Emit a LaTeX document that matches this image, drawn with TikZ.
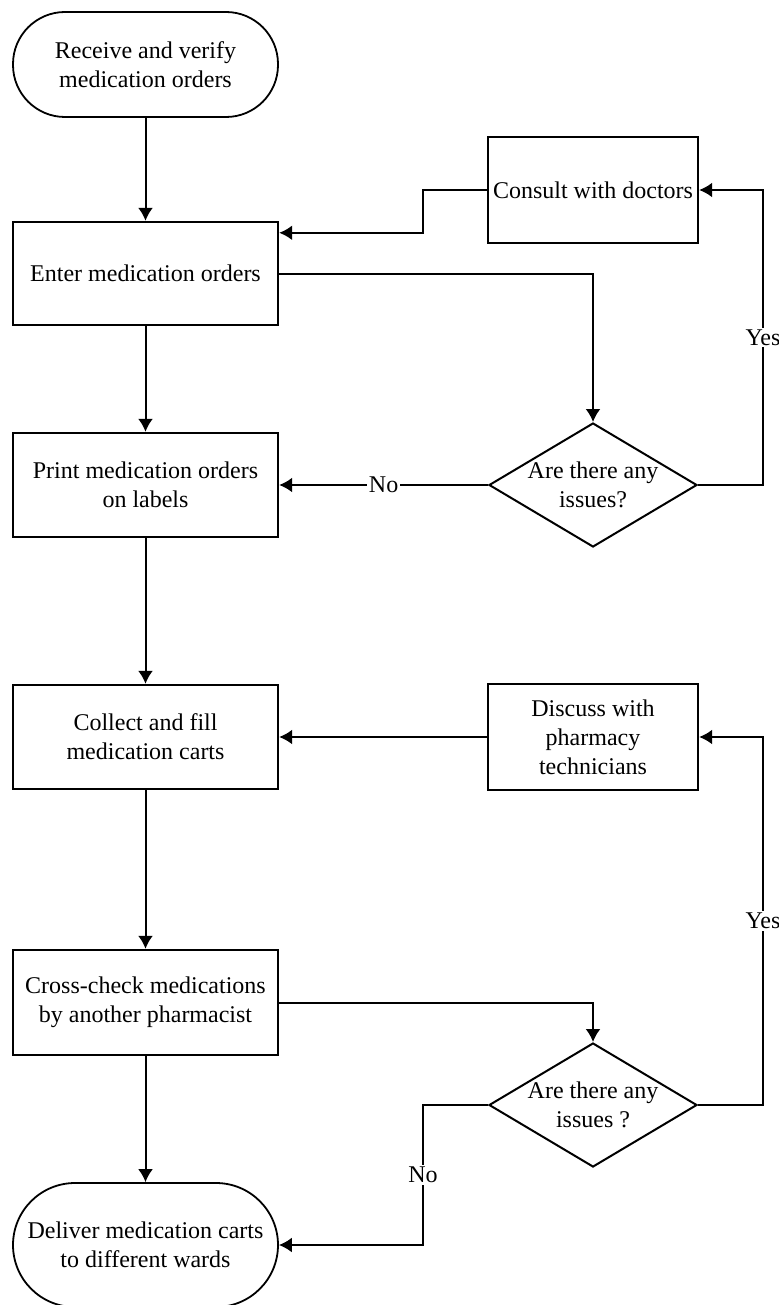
\documentclass[tikz,border=0pt]{standalone}
\usepackage{fontspec}
\setmainfont{Liberation Serif}
\usetikzlibrary{arrows.meta}
\usetikzlibrary{shapes.geometric, math}

\begin{document}
\begin{tikzpicture}[x=0.5pt, y=-0.5pt,
  every node/.style={font=\fontsize{12}{14.5}\selectfont, align=center},
  process/.style={draw, line width=1.2pt, minimum width=132.5pt, minimum height=52pt, inner sep=0pt},
  terminal/.style={draw, line width=0.9pt, minimum width=132.5pt, inner sep=0pt},
  decision/.style={draw, diamond, shape aspect=1.68, line width=1pt, minimum width=104pt, minimum height=62pt, inner sep=-2pt},
  flow/.style={-{Latex[length=6.5pt, width=7.5pt]}, line width=1pt},
  answer/.style={fill=white, inner sep=1pt}]
\tikzmath{
\xl=145.5;
\xr=593;
\dx=65;
}
\useasboundingbox (0,0) rectangle (779,1305);

%main column
\node[terminal, minimum height=52.5pt, rounded corners=26pt] (start) at (\xl,64.5) {Receive and verify\\medication orders};
\node[process, minimum height=51.5pt] (enter) at (\xl,273.5) {Enter medication orders};
\node[process] (print) at (\xl,485) {Print medication orders\\on labels};
\node[process] (collect) at (\xl,737) {Collect and fill\\medication carts};
\node[process, minimum height=52.5pt] (cross) at (\xl,1002.5) {Cross-check medications\\by another pharmacist};
\node[terminal, minimum height=62pt, rounded corners=31pt] (deliver) at (\xl,1245) {Deliver medication carts\\to different wards};

%checks
\node[process, minimum width=105pt, minimum height=53pt] (consult) at (\xr,190) {Consult with doctors};
\node[decision] (check1) at (\xr,485) {Are there any\\issues?};
\node[process, minimum width=105pt, minimum height=53pt] (discuss) at (\xr,737) {Discuss with\\pharmacy\\technicians};
\node[decision] (check2) at (\xr,1105) {Are there any\\issues ?};

\draw[flow] (start) -- (enter);
\draw[flow] (enter) -- (print);
\draw[flow] (print) -- (collect);
\draw[flow] (collect) -- (cross);
\draw[flow] (cross) -- (deliver);

\draw[flow] (enter.east) -| (check1.north);
\draw[flow] (check1.west) -- node[answer]{No} (print.east);
\draw[flow] (check1.east) -- ++(\dx,0) |- node[answer, pos=0.25]{Yes} (consult.east);
\draw[flow] (consult.west) -- ++(-\dx+1,0) |- ([yshift=-6pt]enter.north east);

\draw[flow] (cross.east) -| (check2.north);
\draw[flow] (check2.east) -- ++(\dx,0) |- node[answer, pos=0.25]{Yes} (discuss.east);
\draw[flow] (discuss.west) -- (collect.east);
\draw[flow] (check2.west) -- ++(-\dx,0) |- node[answer, pos=0.25]{No} (deliver.east);
\end{tikzpicture}
\end{document}
